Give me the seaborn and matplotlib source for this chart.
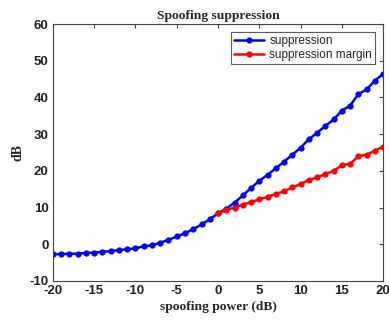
import numpy as np
import pandas as pd
import matplotlib
matplotlib.use("Agg")
import matplotlib.pyplot as plt
import seaborn as sns

power_blue = list(range(-20, 21))
suppression = [-2.7, -2.7, -2.6, -2.6, -2.4, -2.3, -2.1, -1.9, -1.6, -1.4, -1.1,
               -0.6, -0.3, 0.4, 1.2, 2.1, 3.0, 4.1, 5.4, 6.8, 8.4,
               9.7, 11.3, 13.3, 15.3, 17.3, 18.9, 20.7, 22.5, 24.4, 26.3,
               28.6, 30.4, 32.2, 34.0, 36.4, 37.8, 40.9, 42.2, 44.6, 46.4]
power_red = list(range(0, 21))
margin = [8.4, 9.3, 10.0, 10.8, 11.5, 12.2, 12.9, 13.7, 14.4, 15.5, 16.4,
          17.5, 18.2, 19.1, 20.0, 21.5, 21.9, 24.0, 24.4, 25.5, 26.6]

xticks = [-20, -15, -10, -5, 0, 5, 10, 15, 20]
yticks = [-10, 0, 10, 20, 30, 40, 50, 60]

sns.set_style("white")
plt.rcParams['font.family'] = ['Liberation Sans', 'DejaVu Sans']

fig = plt.figure(figsize=(3.89, 3.21), dpi=100)
ax = fig.add_axes([0.136, 0.125, 0.849, 0.800])

df1 = pd.DataFrame({"x": power_blue, "y": suppression})
df2 = pd.DataFrame({"x": power_red, "y": margin})
sns.lineplot(data=df1, x="x", y="y", ax=ax, color="#0000ff", marker="o",
             markersize=4.5, markeredgewidth=0, linewidth=1.8, label="suppression")
sns.lineplot(data=df2, x="x", y="y", ax=ax, color="#ff0000", marker="o",
             markersize=4.5, markeredgewidth=0, linewidth=1.8, label="suppression margin")

ax.set_xlim(-20, 20)
ax.set_ylim(-10, 60)
ax.set_xticks(xticks)
ax.set_yticks(yticks)
ax.set_xticklabels([str(t) for t in xticks], fontsize=9.5, fontweight='bold')
ax.set_yticklabels([str(t) for t in yticks], fontsize=9.5, fontweight='bold')
ax.tick_params(direction='in', length=3, width=0.8, top=True, right=True, pad=3, colors='#444444')
for lbl in ax.get_xticklabels() + ax.get_yticklabels():
    lbl.set_color('#222222')
for s in ax.spines.values():
    s.set_color('#444444')
    s.set_linewidth(0.8)

ax.set_xlabel("spoofing power (dB)", family=['Liberation Serif', 'DejaVu Serif'],
              fontweight='bold', fontsize=9.7, labelpad=3)
ax.set_ylabel("dB", family=['Liberation Serif', 'DejaVu Serif'],
              fontweight='bold', fontsize=10, labelpad=4)
ax.set_title("Spoofing suppression", family=['Liberation Serif', 'DejaVu Serif'],
             fontweight='bold', fontsize=9.7, pad=4)

leg = ax.legend(loc='upper right', fontsize=8.5, frameon=True, fancybox=False,
                borderpad=0.25, handlelength=2.6, handletextpad=0.4, labelspacing=0.15,
                borderaxespad=0.7)
leg.get_frame().set_edgecolor('#333333')
leg.get_frame().set_linewidth(0.8)

fig.savefig("out.png", dpi=100)
